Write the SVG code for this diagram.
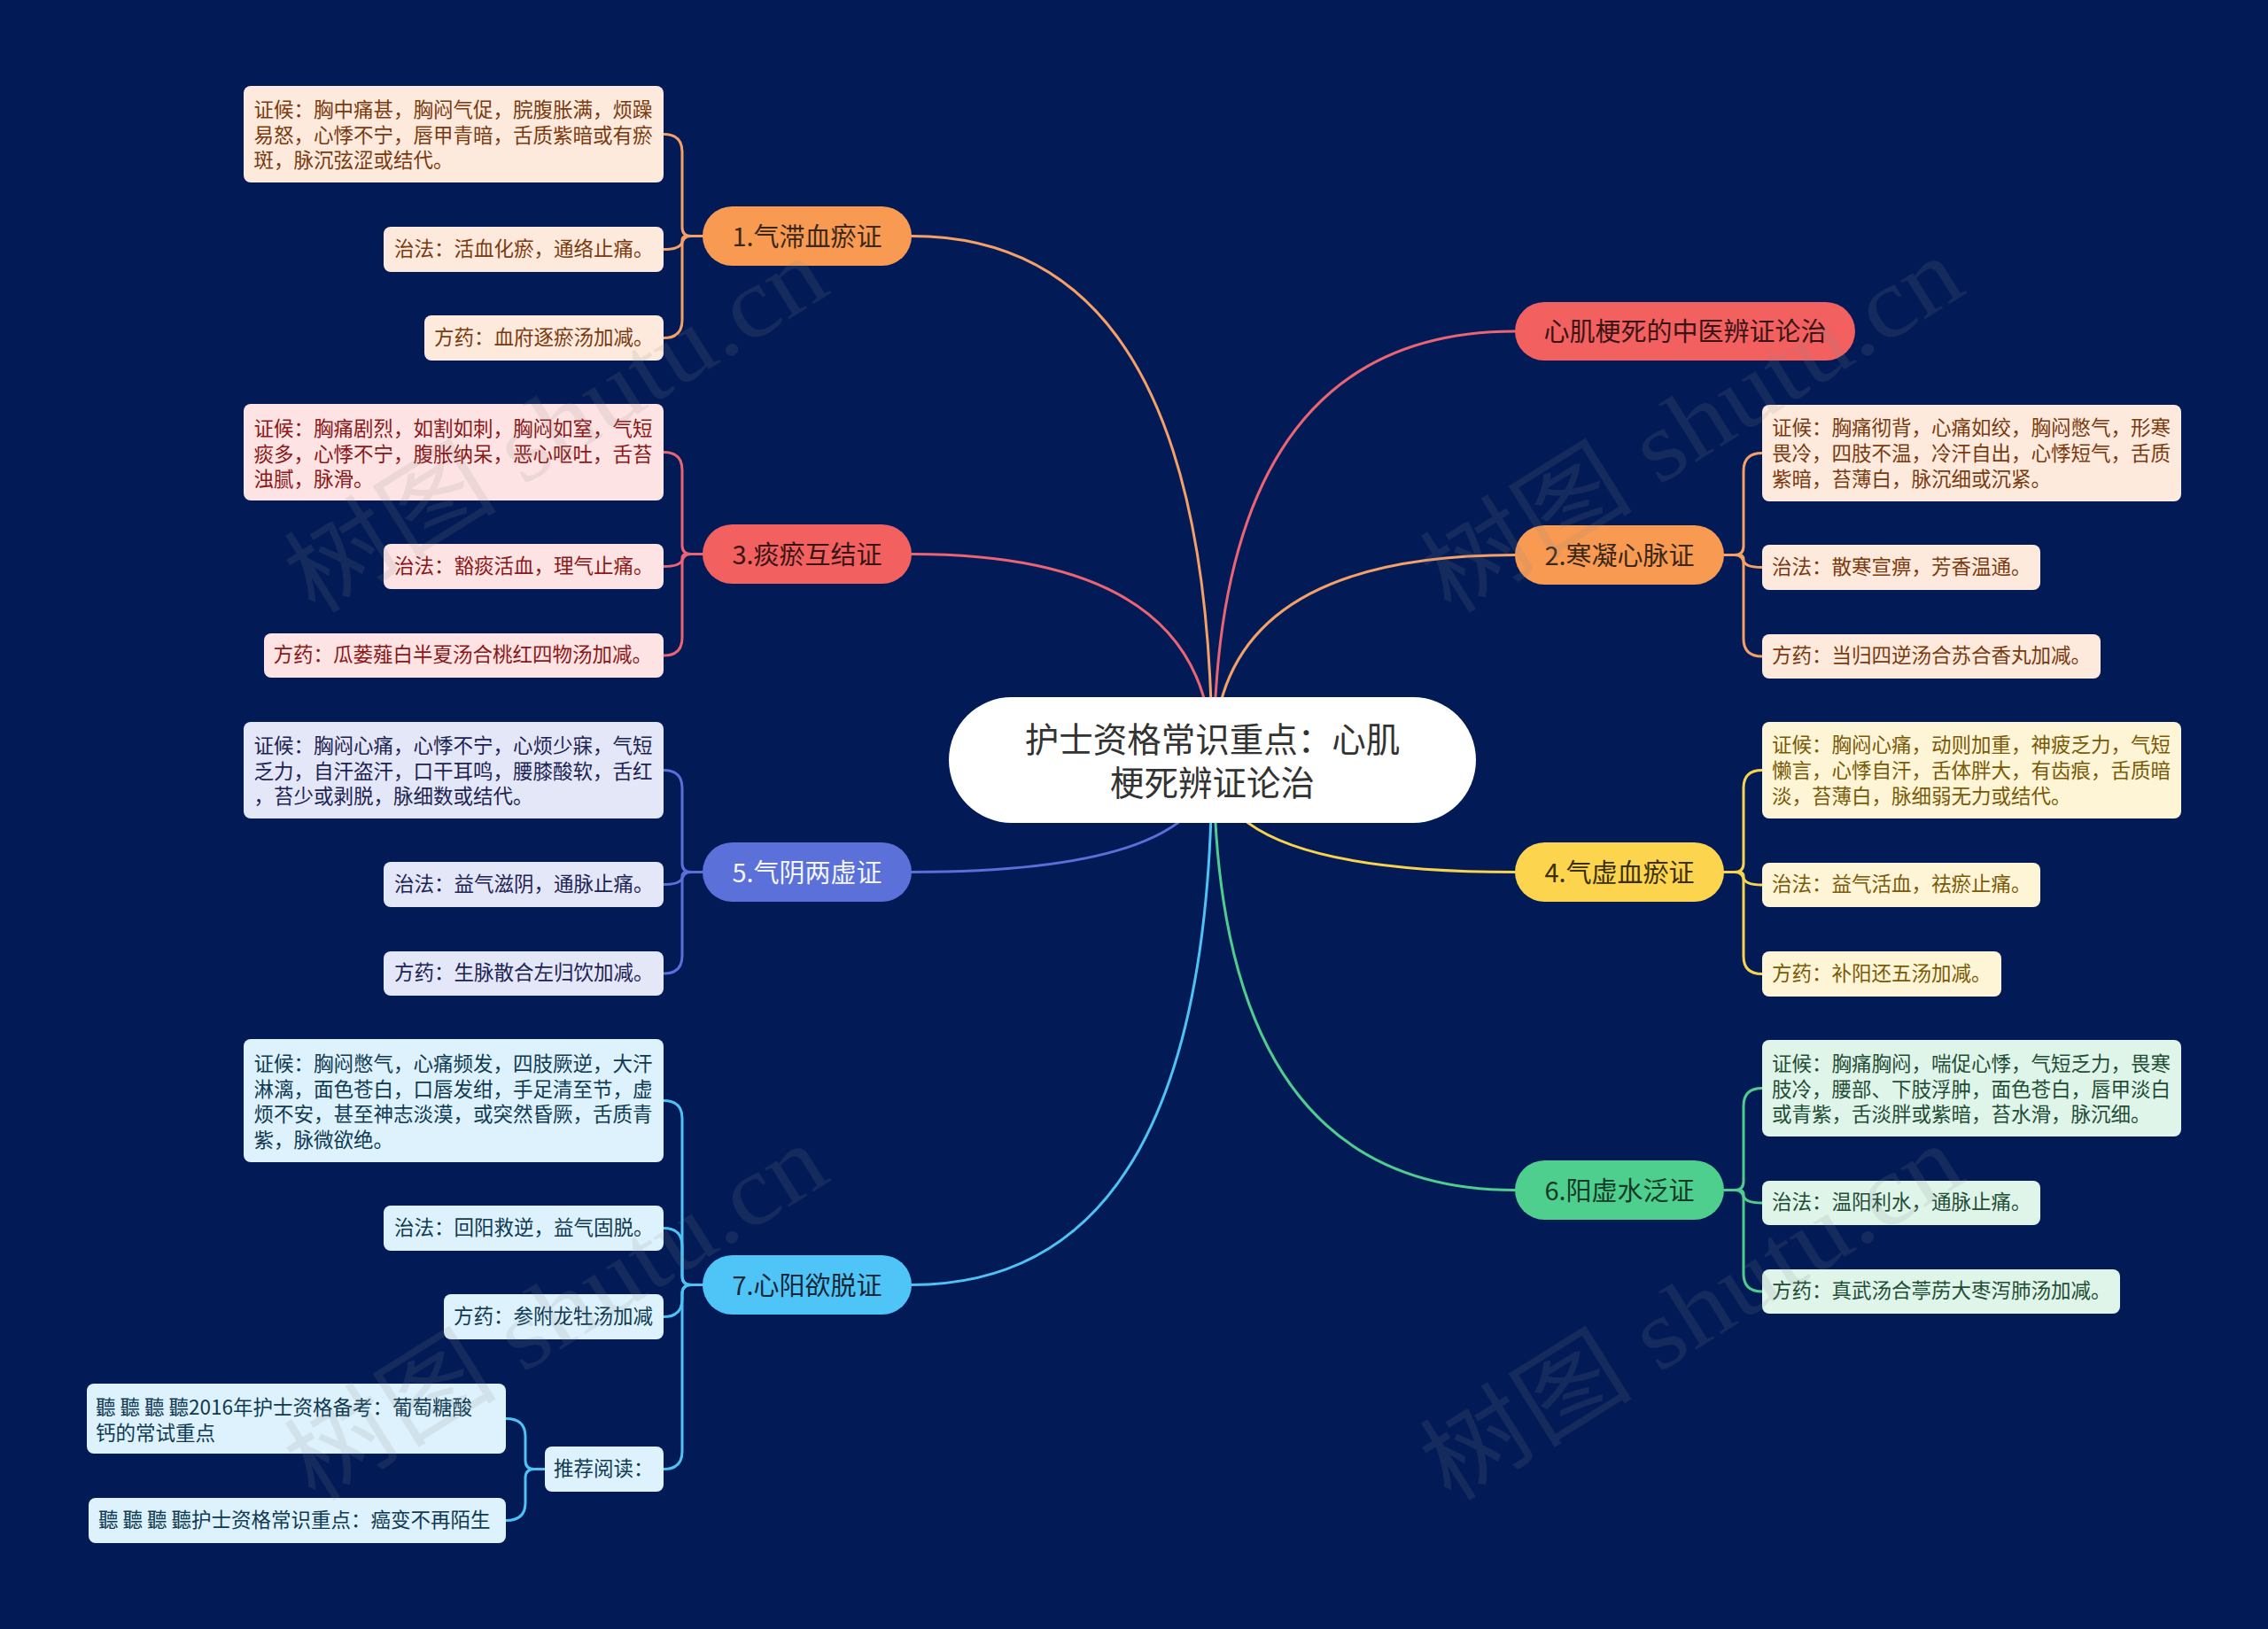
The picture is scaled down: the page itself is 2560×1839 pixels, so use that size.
<svg xmlns="http://www.w3.org/2000/svg" width="2560" height="1839" viewBox="0 0 2560 1839">
<style>
text{font-family:"Noto Sans CJK SC","Noto Sans",sans-serif;dominant-baseline:central}
.lf{font-size:22.5px}
.mn{font-size:29px;text-anchor:middle}
.ct{font-family:"Liberation Sans","Noto Sans CJK SC",sans-serif;font-size:38.5px;text-anchor:middle;fill:#333}
.c{fill:none;stroke-width:3;stroke-linecap:round}
.wm{font-family:"Liberation Serif","Noto Sans CJK SC",serif;font-size:112px;fill:#8a8a8a;opacity:0.14;dominant-baseline:alphabetic}
.o{stroke:#f4a067}.r{stroke:#eb6474}.p{stroke:#5b6fd8}.b{stroke:#4fc2f4}.y{stroke:#f7d350}.g{stroke:#4fcd8f}
.lo{fill:#fdeadc}.to{fill:#7a3a10}
.lr{fill:#fde3e3}.tr{fill:#8a1818}
.lp{fill:#e4e7f8}.tp{fill:#1d2352}
.lb{fill:#ddf2fc}.tb{fill:#0f3a52}
.ly{fill:#fdf5d6}.ty{fill:#7a5a08}
.lg{fill:#dff5ea}.tg{fill:#1f4d35}
</style>
<rect x="0" y="0" width="2560" height="1839" fill="#021b57"/>
<g id="connectors">
<path class="c o" d="M1368,858 Q1368,266.5 1029,266.5"/>
<path class="c r" d="M1368,858 Q1368,625.5 1029,625.5"/>
<path class="c p" d="M1368,858 Q1368,984.5 1029,984.5"/>
<path class="c b" d="M1368,858 Q1368,1450.5 1029,1450.5"/>
<path class="c r" d="M1370,858 Q1370,374 1710,374"/>
<path class="c o" d="M1370,858 Q1370,626.5 1710,626.5"/>
<path class="c y" d="M1370,858 Q1370,984.5 1710,984.5"/>
<path class="c g" d="M1370,858 Q1370,1343.5 1710,1343.5"/>
<path class="c o" d="M793,266.5 H780 Q770,266.5 770,256.5 V171.5 Q770,151.5 749,151.5"/>
<path class="c o" d="M793,266.5 H775 Q770,266.5 770,271.5 Q770,281.5 749,281.5"/>
<path class="c o" d="M793,266.5 H780 Q770,266.5 770,276.5 V361.5 Q770,381.5 749,381.5"/>
<path class="c r" d="M793,625.5 H780 Q770,625.5 770,615.5 V530.5 Q770,510.5 749,510.5"/>
<path class="c r" d="M793,625.5 H775 Q770,625.5 770,630.5 Q770,639.5 749,639.5"/>
<path class="c r" d="M793,625.5 H780 Q770,625.5 770,635.5 V720 Q770,740 749,740"/>
<path class="c p" d="M793,984.5 H780 Q770,984.5 770,974.5 V889.5 Q770,869.5 749,869.5"/>
<path class="c p" d="M793,984.5 H775 Q770,984.5 770,989.5 Q770,998.5 749,998.5"/>
<path class="c p" d="M793,984.5 H780 Q770,984.5 770,994.5 V1079 Q770,1099 749,1099"/>
<path class="c b" d="M793,1450.5 H780 Q770,1450.5 770,1440.5 V1262.5 Q770,1242.5 749,1242.5"/>
<path class="c b" d="M793,1450.5 H780 Q770,1450.5 770,1440.5 V1406.5 Q770,1386.5 749,1386.5"/>
<path class="c b" d="M793,1450.5 H780 Q770,1450.5 770,1460.5 V1466.5 Q770,1486.5 749,1486.5"/>
<path class="c b" d="M793,1450.5 H780 Q770,1450.5 770,1460.5 V1638.5 Q770,1658.5 749,1658.5"/>
<path class="c b" d="M615,1658.5 H603 Q593,1658.5 593,1648.5 V1621.5 Q593,1601.5 571,1601.5"/>
<path class="c b" d="M615,1658.5 H603 Q593,1658.5 593,1668.5 V1696.5 Q593,1716.5 571,1716.5"/>
<path class="c o" d="M1946,626.5 H1958 Q1968,626.5 1968,616.5 V531.5 Q1968,511.5 1989,511.5"/>
<path class="c o" d="M1946,626.5 H1963 Q1968,626.5 1968,631.5 Q1968,640.5 1989,640.5"/>
<path class="c o" d="M1946,626.5 H1958 Q1968,626.5 1968,636.5 V721 Q1968,741 1989,741"/>
<path class="c y" d="M1946,984.5 H1958 Q1968,984.5 1968,974.5 V889.5 Q1968,869.5 1989,869.5"/>
<path class="c y" d="M1946,984.5 H1963 Q1968,984.5 1968,989.5 Q1968,999 1989,999"/>
<path class="c y" d="M1946,984.5 H1958 Q1968,984.5 1968,994.5 V1079.5 Q1968,1099.5 1989,1099.5"/>
<path class="c g" d="M1946,1343.5 H1958 Q1968,1343.5 1968,1333.5 V1248.5 Q1968,1228.5 1989,1228.5"/>
<path class="c g" d="M1946,1343.5 H1963 Q1968,1343.5 1968,1348.5 Q1968,1358 1989,1358"/>
<path class="c g" d="M1946,1343.5 H1958 Q1968,1343.5 1968,1353.5 V1438 Q1968,1458 1989,1458"/>
</g>
<g id="center">
<rect x="1071" y="787" width="595" height="142" rx="71" fill="#ffffff"/>
<text class="ct"><tspan x="1368.5" y="835">护士资格常识重点：心肌</tspan><tspan x="1368.5" y="884">梗死辨证论治</tspan></text>
</g>
<g id="n1">
<rect x="793" y="233" width="236" height="67" rx="33.5" fill="#f89a52"/>
<text class="mn" x="911" y="264.5" fill="#3a2818">1.气滞血瘀证</text>
</g>
<g id="n1a"><rect class="lo" x="275" y="97" width="474" height="109" rx="8"/>
<text class="lf to"><tspan x="286.5" y="122">证候：胸中痛甚，胸闷气促，脘腹胀满，烦躁</tspan><tspan x="286.5" y="151">易怒，心悸不宁，唇甲青暗，舌质紫暗或有瘀</tspan><tspan x="286.5" y="179">斑，脉沉弦涩或结代。</tspan></text></g>
<g id="n1b"><rect class="lo" x="433" y="256" width="316" height="51" rx="8"/>
<text class="lf to" x="445" y="278.5">治法：活血化瘀，通络止痛。</text></g>
<g id="n1c"><rect class="lo" x="479" y="356" width="270" height="51" rx="8"/>
<text class="lf to" x="490" y="378.5">方药：血府逐瘀汤加减。</text></g>
<g id="n3">
<rect x="793" y="592" width="236" height="67" rx="33.5" fill="#f26060"/>
<text class="mn" x="911" y="623.5" fill="#3a1414">3.痰瘀互结证</text>
</g>
<g id="n3a"><rect class="lr" x="275" y="456" width="474" height="109" rx="8"/>
<text class="lf tr"><tspan x="286.5" y="482">证候：胸痛剧烈，如割如刺，胸闷如窒，气短</tspan><tspan x="286.5" y="511">痰多，心悸不宁，腹胀纳呆，恶心呕吐，舌苔</tspan><tspan x="286.5" y="539">浊腻，脉滑。</tspan></text></g>
<g id="n3b"><rect class="lr" x="433" y="614" width="316" height="51" rx="8"/>
<text class="lf tr" x="445" y="636.5">治法：豁痰活血，理气止痛。</text></g>
<g id="n3c"><rect class="lr" x="298" y="715" width="451" height="50" rx="8"/>
<text class="lf tr" x="308.5" y="737">方药：瓜蒌薤白半夏汤合桃红四物汤加减。</text></g>
<g id="n5">
<rect x="793" y="951" width="236" height="67" rx="33.5" fill="#5b70d8"/>
<text class="mn" x="911" y="982.5" fill="#f4f6ff">5.气阴两虚证</text>
</g>
<g id="n5a"><rect class="lp" x="275" y="815" width="474" height="109" rx="8"/>
<text class="lf tp"><tspan x="286.5" y="840">证候：胸闷心痛，心悸不宁，心烦少寐，气短</tspan><tspan x="286.5" y="869">乏力，自汗盗汗，口干耳鸣，腰膝酸软，舌红</tspan><tspan x="286.5" y="897">，苔少或剥脱，脉细数或结代。</tspan></text></g>
<g id="n5b"><rect class="lp" x="433" y="973" width="316" height="51" rx="8"/>
<text class="lf tp" x="445" y="995.5">治法：益气滋阴，通脉止痛。</text></g>
<g id="n5c"><rect class="lp" x="433" y="1074" width="316" height="50" rx="8"/>
<text class="lf tp" x="445" y="1096">方药：生脉散合左归饮加减。</text></g>
<g id="n7">
<rect x="793" y="1417" width="236" height="67" rx="33.5" fill="#4fc4f7"/>
<text class="mn" x="911" y="1448.5" fill="#142838">7.心阳欲脱证</text>
</g>
<g id="n7a"><rect class="lb" x="275" y="1173" width="474" height="139" rx="8"/>
<text class="lf tb"><tspan x="286.5" y="1199">证候：胸闷憋气，心痛频发，四肢厥逆，大汗</tspan><tspan x="286.5" y="1227.5">淋漓，面色苍白，口唇发绀，手足清至节，虚</tspan><tspan x="286.5" y="1256">烦不安，甚至神志淡漠，或突然昏厥，舌质青</tspan><tspan x="286.5" y="1285">紫，脉微欲绝。</tspan></text></g>
<g id="n7b"><rect class="lb" x="433" y="1361" width="316" height="51" rx="8"/>
<text class="lf tb" x="445" y="1383.5">治法：回阳救逆，益气固脱。</text></g>
<g id="n7c"><rect class="lb" x="501" y="1461" width="248" height="51" rx="8"/>
<text class="lf tb" x="512" y="1483.5">方药：参附龙牡汤加减</text></g>
<g id="n7d"><rect class="lb" x="615" y="1633" width="134" height="51" rx="8"/>
<text class="lf tb" x="625" y="1655.5">推荐阅读：</text></g>
<g id="n7d1"><rect class="lb" x="98" y="1562" width="473" height="79" rx="8"/>
<text class="lf tb"><tspan x="108" y="1587">聽 聽 聽 聽2016年护士资格备考：葡萄糖酸</tspan><tspan x="108" y="1616">钙的常试重点</tspan></text></g>
<g id="n7d2"><rect class="lb" x="100" y="1691" width="471" height="51" rx="8"/>
<text class="lf tb" x="111" y="1713.5">聽 聽 聽 聽护士资格常识重点：癌变不再陌生</text></g>
<g id="n0">
<rect x="1710" y="341" width="384" height="66" rx="33" fill="#f26060"/>
<text class="mn" x="1902" y="372" fill="#3a1414">心肌梗死的中医辨证论治</text>
</g>
<g id="n2">
<rect x="1710" y="593" width="236" height="67" rx="33.5" fill="#f89a52"/>
<text class="mn" x="1828" y="624.5" fill="#3a2818">2.寒凝心脉证</text>
</g>
<g id="n2a"><rect class="lo" x="1989" y="457" width="473" height="109" rx="8"/>
<text class="lf to"><tspan x="2000" y="481">证候：胸痛彻背，心痛如绞，胸闷憋气，形寒</tspan><tspan x="2000" y="510">畏冷，四肢不温，冷汗自出，心悸短气，舌质</tspan><tspan x="2000" y="539">紫暗，苔薄白，脉沉细或沉紧。</tspan></text></g>
<g id="n2b"><rect class="lo" x="1989" y="615" width="314" height="51" rx="8"/>
<text class="lf to" x="2000" y="637.5">治法：散寒宣痹，芳香温通。</text></g>
<g id="n2c"><rect class="lo" x="1989" y="716" width="382" height="50" rx="8"/>
<text class="lf to" x="2000" y="738">方药：当归四逆汤合苏合香丸加减。</text></g>
<g id="n4">
<rect x="1710" y="951" width="236" height="67" rx="33.5" fill="#fdd44e"/>
<text class="mn" x="1828" y="982.5" fill="#3a3008">4.气虚血瘀证</text>
</g>
<g id="n4a"><rect class="ly" x="1989" y="815" width="473" height="109" rx="8"/>
<text class="lf ty"><tspan x="2000" y="839">证候：胸闷心痛，动则加重，神疲乏力，气短</tspan><tspan x="2000" y="868">懒言，心悸自汗，舌体胖大，有齿痕，舌质暗</tspan><tspan x="2000" y="897">淡，苔薄白，脉细弱无力或结代。</tspan></text></g>
<g id="n4b"><rect class="ly" x="1989" y="974" width="314" height="50" rx="8"/>
<text class="lf ty" x="2000" y="996">治法：益气活血，祛瘀止痛。</text></g>
<g id="n4c"><rect class="ly" x="1989" y="1074" width="270" height="51" rx="8"/>
<text class="lf ty" x="2000" y="1096.5">方药：补阳还五汤加减。</text></g>
<g id="n6">
<rect x="1710" y="1310" width="236" height="67" rx="33.5" fill="#4ecf8e"/>
<text class="mn" x="1828" y="1341.5" fill="#143a28">6.阳虚水泛证</text>
</g>
<g id="n6a"><rect class="lg" x="1989" y="1174" width="473" height="109" rx="8"/>
<text class="lf tg"><tspan x="2000" y="1199">证候：胸痛胸闷，喘促心悸，气短乏力，畏寒</tspan><tspan x="2000" y="1228">肢冷，腰部、下肢浮肿，面色苍白，唇甲淡白</tspan><tspan x="2000" y="1256">或青紫，舌淡胖或紫暗，苔水滑，脉沉细。</tspan></text></g>
<g id="n6b"><rect class="lg" x="1989" y="1333" width="314" height="50" rx="8"/>
<text class="lf tg" x="2000" y="1355">治法：温阳利水，通脉止痛。</text></g>
<g id="n6c"><rect class="lg" x="1989" y="1433" width="404" height="50" rx="8"/>
<text class="lf tg" x="2000" y="1455">方药：真武汤合葶苈大枣泻肺汤加减。</text></g>
<g id="watermarks">
<text class="wm" transform="translate(355,695) rotate(-32)" textLength="690" lengthAdjust="spacingAndGlyphs">树图 shutu.cn</text>
<text class="wm" transform="translate(1637,695) rotate(-32)" textLength="690" lengthAdjust="spacingAndGlyphs">树图 shutu.cn</text>
<text class="wm" transform="translate(355,1697) rotate(-32)" textLength="690" lengthAdjust="spacingAndGlyphs">树图 shutu.cn</text>
<text class="wm" transform="translate(1637,1697) rotate(-32)" textLength="690" lengthAdjust="spacingAndGlyphs">树图 shutu.cn</text>
</g>
</svg>
